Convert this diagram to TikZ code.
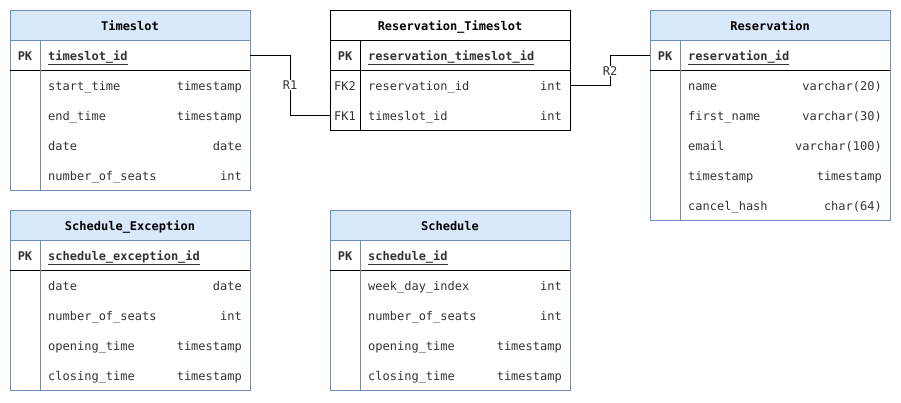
\documentclass[tikz,border=0pt]{standalone}
\usepackage{fontspec}
\setmonofont{DejaVu Sans Mono}
\definecolor{bframe}{HTML}{6C8EBF}
\definecolor{bfill}{HTML}{DAE8FC}
\definecolor{txtc}{HTML}{333333}
\newcommand{\ertable}[8]{%
  % #1 x, #2 y, #3 height, #4 frame colour, #5 fill colour, #6 title, #7 name, #8 pk
  \fill[#5] (#1,#2) rectangle ++(240,30);
  \draw[#4, line width=0.8pt] (#1,#2) rectangle ++(240,#3);
  \draw[#4, line width=0.8pt] (#1,#2+30) -- ++(240,0);
  \draw[black, line width=0.8pt] (#1,#2+60) -- ++(240,0);
  \draw[#4, line width=0.8pt] (#1+30,#2+30) -- (#1+30,#2+#3);
  \node[hdr] (#7-title) at (#1+120,#2+15) {#6};
  \node[keyc, font=\ttfamily\bfseries\fontsize{12}{14}\selectfont] (#7-pkkey) at (#1+15,#2+45) {PK};
  \node[fname, font=\ttfamily\bfseries\fontsize{12}{14}\selectfont] (#7-pk) at (#1+38,#2+45) {\underline{#8}};
}
\begin{document}
\begin{tikzpicture}[x=1pt,y=-1pt,
  base/.style={font=\ttfamily\fontsize{12}{14}\selectfont, text=txtc, inner sep=0, text height=11pt, text depth=0.5pt},
  hdr/.style={base, font=\ttfamily\bfseries\fontsize{12}{14}\selectfont, text=black},
  keyc/.style={base},
  fname/.style={base, anchor=west},
  ftype/.style={base, anchor=east},
  rel/.style={draw=black, line width=0.8pt},
  rlabel/.style={font=\ttfamily\fontsize{12}{14}\selectfont, text=txtc, fill=white, inner xsep=1pt, inner ysep=1pt}]
\useasboundingbox (0,0) rectangle (901,402);

% Timeslot
\ertable{10}{10}{180}{bframe}{bfill}{Timeslot}{ts}{timeslot\_id}
\node[fname] (ts-f1) at (48,85) {start\_time};   \node[ftype] (ts-t1) at (242,85) {timestamp};
\node[fname] (ts-f2) at (48,115) {end\_time};    \node[ftype] (ts-t2) at (242,115) {timestamp};
\node[fname] (ts-f3) at (48,145) {date};         \node[ftype] (ts-t3) at (242,145) {date};
\node[fname] (ts-f4) at (48,175) {number\_of\_seats}; \node[ftype] (ts-t4) at (242,175) {int};

% Reservation_Timeslot
\ertable{330}{10}{120}{black}{white}{Reservation\_Timeslot}{rt}{reservation\_timeslot\_id}
\node[keyc] (rt-k1) at (345,85) {FK2};
\node[keyc] (rt-k2) at (345,115) {FK1};
\node[fname] (rt-f1) at (368,85) {reservation\_id}; \node[ftype] (rt-t1) at (562,85) {int};
\node[fname] (rt-f2) at (368,115) {timeslot\_id};   \node[ftype] (rt-t2) at (562,115) {int};

% Reservation
\ertable{650}{10}{210}{bframe}{bfill}{Reservation}{rs}{reservation\_id}
\node[fname] (rs-f1) at (688,85) {name};        \node[ftype] (rs-t1) at (882,85) {varchar(20)};
\node[fname] (rs-f2) at (688,115) {first\_name}; \node[ftype] (rs-t2) at (882,115) {varchar(30)};
\node[fname] (rs-f3) at (688,145) {email};       \node[ftype] (rs-t3) at (882,145) {varchar(100)};
\node[fname] (rs-f4) at (688,175) {timestamp};   \node[ftype] (rs-t4) at (882,175) {timestamp};
\node[fname] (rs-f5) at (688,205) {cancel\_hash}; \node[ftype] (rs-t5) at (882,205) {char(64)};

% Schedule_Exception
\ertable{10}{210}{180}{bframe}{bfill}{Schedule\_Exception}{se}{schedule\_exception\_id}
\node[fname] (se-f1) at (48,285) {date};            \node[ftype] (se-t1) at (242,285) {date};
\node[fname] (se-f2) at (48,315) {number\_of\_seats}; \node[ftype] (se-t2) at (242,315) {int};
\node[fname] (se-f3) at (48,345) {opening\_time};    \node[ftype] (se-t3) at (242,345) {timestamp};
\node[fname] (se-f4) at (48,375) {closing\_time};    \node[ftype] (se-t4) at (242,375) {timestamp};

% Schedule
\ertable{330}{210}{180}{bframe}{bfill}{Schedule}{sc}{schedule\_id}
\node[fname] (sc-f1) at (368,285) {week\_day\_index};  \node[ftype] (sc-t1) at (562,285) {int};
\node[fname] (sc-f2) at (368,315) {number\_of\_seats}; \node[ftype] (sc-t2) at (562,315) {int};
\node[fname] (sc-f3) at (368,345) {opening\_time};    \node[ftype] (sc-t3) at (562,345) {timestamp};
\node[fname] (sc-f4) at (368,375) {closing\_time};    \node[ftype] (sc-t4) at (562,375) {timestamp};

% relation anchors
\coordinate (tsR) at (250,55);
\coordinate (rtL1) at (330,115);
\coordinate (rtR) at (570,85);
\coordinate (rsL) at (650,55);

\draw[rel] (tsR) -- (290,55) -- (290,115) -- (rtL1);
\node[rlabel] (r1) at (290,85) {R1};
\draw[rel] (rtR) -- (610,85) -- (610,55) -- (rsL);
\node[rlabel] (r2) at (610,71) {R2};
\end{tikzpicture}
\end{document}
